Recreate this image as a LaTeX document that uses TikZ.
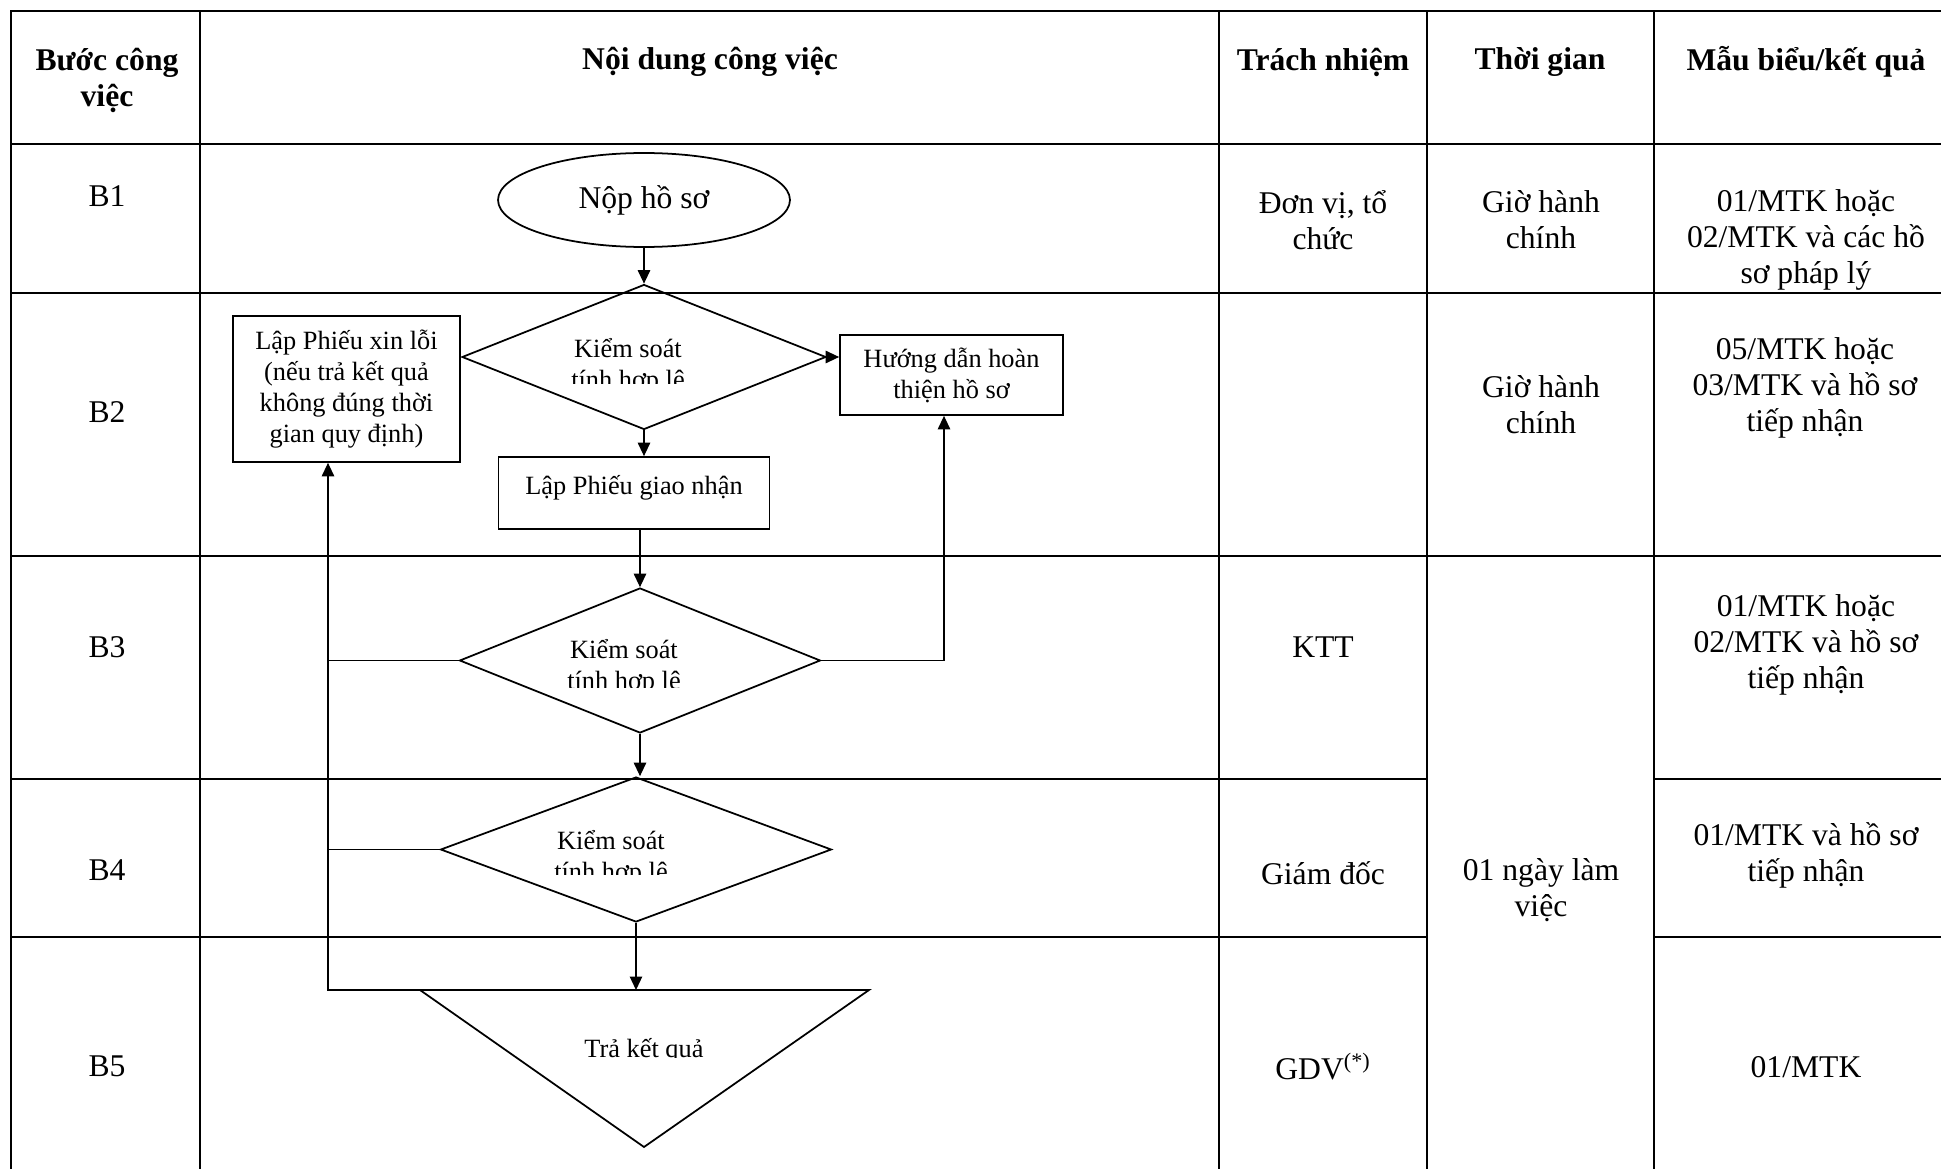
\documentclass[tikz,border=0pt]{standalone}
\usepackage{fontspec}
\setmainfont{Liberation Serif}
\usetikzlibrary{shapes.geometric,arrows.meta}

\begin{document}
\begin{tikzpicture}[x=0.02cm,y=-0.02cm,
  tbl/.style={line width=1.4pt},
  cell/.style={align=center,inner sep=0pt,font=\fontsize{18}{20.5}\selectfont},
  hcell/.style={cell,font=\fontsize{18}{20.5}\selectfont\bfseries},
  flow/.style={draw,line width=1pt,inner sep=0pt},
  btext/.style={align=center,inner sep=0pt,font=\fontsize{15}{17.6}\selectfont},
  link/.style={line width=0.7pt,-{Triangle[length=0.27cm,width=0.25cm]}},
  feed/.style={line width=0.7pt}]
\useasboundingbox (0,0) rectangle (1941,1169);

\draw[tbl] (11,1169)--(11,11)--(1941,11);
\draw[tbl] (11,144)--(1941,144);
\draw[tbl] (11,293)--(1941,293);
\draw[tbl] (11,556)--(1941,556);
\draw[tbl] (11,779)--(1427,779) (1654,779)--(1941,779);
\draw[tbl] (11,937)--(1427,937) (1654,937)--(1941,937);
\draw[tbl] (200,11)--(200,1169);
\draw[tbl] (1219,11)--(1219,1169);
\draw[tbl] (1427,11)--(1427,1169);
\draw[tbl] (1654,11)--(1654,1169);

\node[hcell] (h-step) at (107,80) {Bước công\\việc};
\node[hcell] (h-task) at (710,62) {Nội dung công việc};
\node[hcell] (h-resp) at (1323,62) {Trách nhiệm};
\node[hcell] (h-time) at (1540,62) {Thời gian};
\node[hcell] (h-form) at (1806,62) {Mẫu biểu/kết quả};

\node[cell] (s1) at (107,196) {B1};
\node[cell] (s2) at (107,412) {B2};
\node[cell] (s3) at (107,647) {B3};
\node[cell] (s4) at (107,870) {B4};
\node[cell] (s5) at (107,1066) {B5};

\node[cell] (r1) at (1323,220) {Đơn vị, tổ\\chức};
\node[cell] (r3) at (1323,647) {KTT};
\node[cell] (r4) at (1323,873) {Giám đốc};
\node[cell] (r5) at (1323,1067) {GDV\textsuperscript{(*)}};

\node[cell] (t1) at (1541,220) {Giờ hành\\chính};
\node[cell] (t2) at (1541,405) {Giờ hành\\chính};
\node[cell] (t3) at (1541,890) {01 ngày làm\\việc};

\node[cell] (f1) at (1806,240) {01/MTK hoặc\\02/MTK và các hồ\\sơ pháp lý};
\node[cell] (f2) at (1805,388) {05/MTK hoặc\\03/MTK và hồ sơ\\tiếp nhận};
\node[cell] (f3) at (1806,645) {01/MTK hoặc\\02/MTK và hồ sơ\\tiếp nhận};
\node[cell] (f4) at (1806,855) {01/MTK và hồ sơ\\tiếp nhận};
\node[cell] (f5) at (1806,1067) {01/MTK};

\node[flow,ellipse,minimum width=5.84cm,minimum height=1.88cm,font=\fontsize{18}{20.5}\selectfont] (nop) at (644,200) {Nộp hồ sơ};
\node[flow,diamond,minimum width=7.28cm,minimum height=2.9cm] (kt1) at (644,357) {};
\node[flow,btext,minimum width=4.54cm,minimum height=2.92cm] (xl) at (346.5,389) {Lập Phiếu xin lỗi\\(nếu trả kết quả\\không đúng thời\\gian quy định)};
\node[flow,btext,minimum width=4.46cm,minimum height=1.6cm] (hd) at (951.5,375) {Hướng dẫn hoàn\\thiện hồ sơ};
\node[flow,btext,minimum width=5.42cm,minimum height=1.44cm] (gn) at (634,493) {\raisebox{0.32cm}{Lập Phiếu giao nhận}};
\node[flow,diamond,minimum width=7.22cm,minimum height=2.9cm] (kt2) at (640,660.5) {};
\node[flow,diamond,minimum width=7.82cm,minimum height=2.9cm] (kt3) at (636,849.5) {};
\coordinate (tr-l) at (420,990);
\coordinate (tr-r) at (869,990);
\coordinate (tr-b) at (644,1147);
\draw[line width=1pt] (tr-l)--(tr-r)--(tr-b)--cycle;

\begin{scope}
\clip (0,280) rectangle (1941,383);
\node[btext] (kt1-t) at (628,366) {Kiểm soát\\tính hợp lệ};
\end{scope}
\begin{scope}
\clip (0,590) rectangle (1941,687);
\node[btext] (kt2-t) at (624,667) {Kiểm soát\\tính hợp lệ};
\end{scope}
\begin{scope}
\clip (0,780) rectangle (1941,874);
\node[btext] (kt3-t) at (611,858) {Kiểm soát\\tính hợp lệ};
\end{scope}
\begin{scope}
\clip (0,995) rectangle (1941,1057);
\node[btext] (tr-t) at (644,1051) {Trả kết quả};
\end{scope}

\coordinate (back-l) at (328,990);
\coordinate (back-r) at (944,660.5);
\draw[link] (nop.south) -- (kt1.north);
\draw[link] (kt1.east) -- (kt1.east -| hd.west);
\draw[link] (kt1.south) -- (kt1.south |- gn.north);
\draw[link] (gn.south -| kt2.north) -- (kt2.north);
\draw[link] (kt2.south) -- (kt2.south |- kt3.north);
\draw[link] (kt3.south) -- (kt3.south |- tr-l);
\draw[link] (tr-l) -- (back-l) -- (back-l |- xl.south);
\draw[feed] (kt2.west) -- (kt2.west -| back-l);
\draw[feed] (kt3.west) -- (kt3.west -| back-l);
\draw[link] (kt2.east) -- (back-r) -- (back-r |- hd.south);
\end{tikzpicture}
\end{document}
